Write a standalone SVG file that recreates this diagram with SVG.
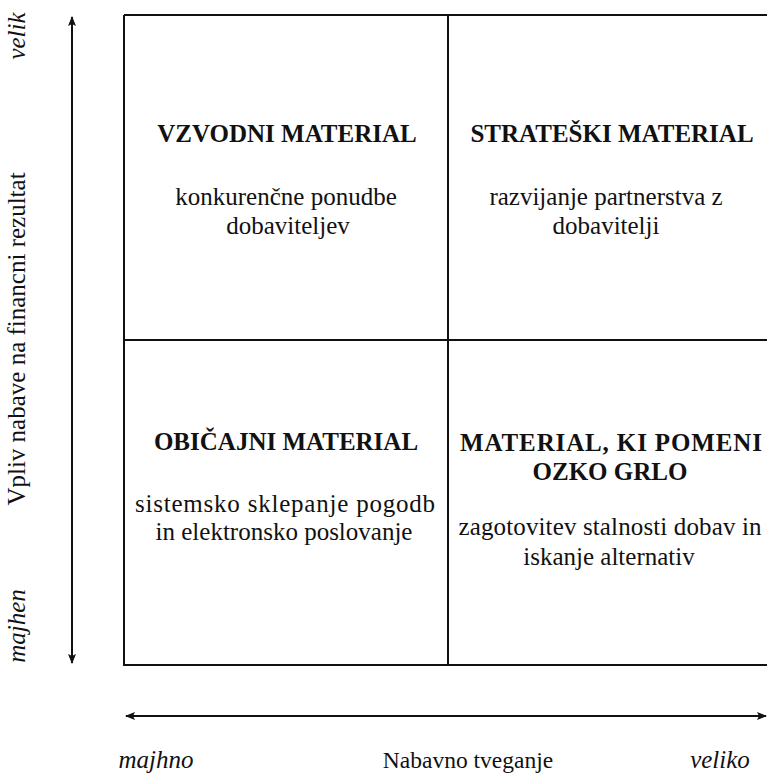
<svg xmlns="http://www.w3.org/2000/svg" width="767" height="774" viewBox="0 0 767 774">
  <style>
    .grid { stroke: #111; stroke-width: 2; fill: none; }
    .axis { stroke: #111; stroke-width: 2; fill: none; }
    .t { font-family: "Liberation Serif", "Times New Roman", "DejaVu Serif", serif; font-size: 25px; fill: #111; text-anchor: middle; }
    .b { font-weight: bold; }
    .i { font-style: italic; }
  </style>
  <defs>
    <marker id="head" viewBox="0 0 10 8" refX="9" refY="4" markerWidth="10" markerHeight="8" markerUnits="userSpaceOnUse" orient="auto-start-reverse">
      <path d="M0,0 L10,4 L0,8 L2,4 Z" fill="#111"/>
    </marker>
  </defs>

  <!-- quadrant grid -->
  <g id="grid">
    <path class="grid" d="M124,15 H775 M124,15 V665 H775 M448,15 V665 M124,340 H775"/>
  </g>

  <!-- axes -->
  <g id="connectors">
    <line class="axis" x1="72" y1="17" x2="72" y2="663" marker-start="url(#head)" marker-end="url(#head)"/>
    <line class="axis" x1="126" y1="716" x2="766" y2="716" marker-start="url(#head)" marker-end="url(#head)"/>
  </g>

  <g id="q-vzvodni">
    <text class="t b" x="287" y="142">VZVODNI MATERIAL</text>
    <text class="t" x="286" y="205">konkurenčne ponudbe</text>
    <text class="t" x="288" y="234">dobaviteljev</text>
  </g>

  <g id="q-strateski">
    <text class="t b" x="612" y="142">STRATEŠKI MATERIAL</text>
    <text class="t" x="606" y="205">razvijanje partnerstva z</text>
    <text class="t" x="606" y="234">dobavitelji</text>
  </g>

  <g id="q-obicajni">
    <text class="t b" x="286" y="450">OBIČAJNI MATERIAL</text>
    <text class="t" x="285" y="512" textLength="300" lengthAdjust="spacing">sistemsko sklepanje pogodb</text>
    <text class="t" x="284" y="540">in elektronsko poslovanje</text>
  </g>

  <g id="q-ozko-grlo">
    <text class="t b" x="611" y="451" textLength="302" lengthAdjust="spacing">MATERIAL, KI POMENI</text>
    <text class="t b" x="610" y="480">OZKO GRLO</text>
    <text class="t" x="610" y="535" textLength="303" lengthAdjust="spacing">zagotovitev stalnosti dobav in</text>
    <text class="t" x="609" y="565">iskanje alternativ</text>
  </g>

  <!-- axis labels -->
  <g id="y-axis-labels">
    <text class="t" transform="translate(25,339) rotate(-90)" font-size="25.5">Vpliv nabave na financni rezultat</text>
    <text class="t i" transform="translate(25,36) rotate(-90)">velik</text>
    <text class="t i" transform="translate(25,626) rotate(-90)">majhen</text>
  </g>
  <g id="x-axis-labels">
    <text class="t i" x="156" y="768">majhno</text>
    <text class="t" x="468" y="768" style="font-size:23.5px">Nabavno tveganje</text>
    <text class="t i" x="720" y="768">veliko</text>
  </g>
</svg>
